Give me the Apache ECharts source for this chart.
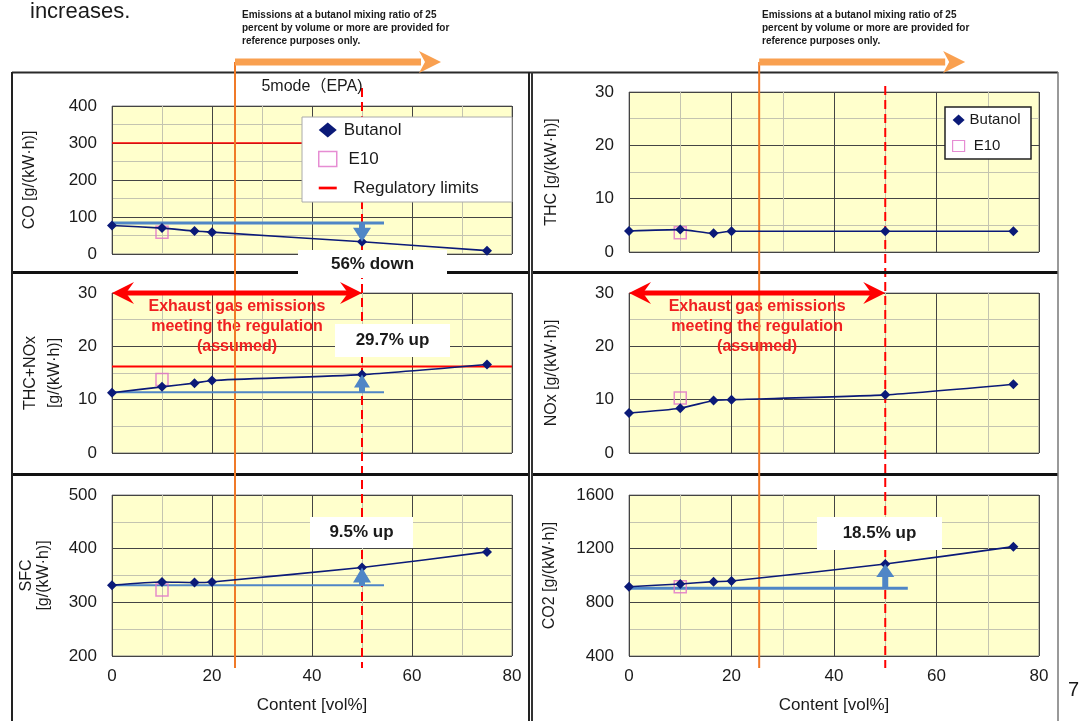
<!DOCTYPE html>
<html><head><meta charset="utf-8">
<script src="https://cdn.jsdelivr.net/npm/echarts@6/dist/echarts.min.js"></script>
<style>html,body{margin:0;padding:0;background:#fff}#c{width:1080px;height:721px}</style>
</head><body><div id="c"></div>
<script>
// ---------- data ----------
const contentX = [0, 10, 16.5, 20, 50, 75];          // butanol content [vol%]
const e10X = [10];
const xTicks = [0, 20, 40, 60, 80];

const coButanol = [77, 70, 62, 59, 33, 9];
const coE10 = [59];
const coLimit = 300;
const coBaseline = 84;
const coTicks = [0, 100, 200, 300, 400];

const thcButanol = [3.95, 4.2, 3.5, 3.9, 3.9, 3.9];
const thcE10 = [3.6];
const thcTicks = [0, 10, 20, 30];

const thcNoxButanol = [11.3, 12.4, 13.1, 13.6, 14.7, 16.6];
const thcNoxE10 = [13.8];
const thcNoxLimit = 16.2;
const thcNoxBaseline = 11.4;
const thcNoxTicks = [0, 10, 20, 30];

const noxButanol = [7.5, 8.4, 9.85, 10.0, 10.9, 12.9];
const noxE10 = [10.3];
const noxTicks = [0, 10, 20, 30];

const sfcButanol = [332, 338, 337, 338, 365, 394];
const sfcE10 = [323];
const sfcBaseline = 332;
const sfcTicks = [200, 300, 400, 500];

const co2Butanol = [916, 937, 954, 959, 1086, 1215];
const co2E10 = [916];
const co2Baseline = 905;
const co2Ticks = [400, 800, 1200, 1600];

const baselineX = [0, 54.4];
const compareX = 50;                 // mixing ratio compared with 0 %
const regulationRange = [0, 50];     // range assumed to meet regulation
const referenceFrom = [24.6, 25.4];  // "25 % or more" marker (left, right column)

const changeLabels = ['56% down', '29.7% up', '9.5% up', '18.5% up'];
const noteText = 'Emissions at a butanol mixing ratio of 25\npercent by volume or more are provided for\nreference purposes only.';
const regText = 'Exhaust gas emissions\nmeeting the regulation\n(assumed)';

// ---------- style ----------
const FONT = '"Liberation Sans", Arial, "Noto Sans CJK JP", sans-serif';
const NAVY = '#0b1a78', PINK = '#e070c8', RED = '#ff0000', BLUE = '#4f86c6';
const ORANGE_V = '#f07a28', ORANGE_H = '#f9a050';
const MAJOR = '#444444', MINOR = '#c4c4b0', TXT = '#1a1a1a';

const grids = [
  {left: 112, top: 106, width: 400, height: 148},
  {left: 629, top: 92, width: 410, height: 160},
  {left: 112, top: 293, width: 400, height: 160},
  {left: 629, top: 293, width: 410, height: 160},
  {left: 112, top: 495, width: 400, height: 161},
  {left: 629, top: 495, width: 410, height: 161}
].map(g => Object.assign(g, {show: true, backgroundColor: '#ffffcc', borderColor: '#888', borderWidth: 1}));

function xAx(gi, show) {
  return {type: 'value', gridIndex: gi, min: xTicks[0], max: xTicks[xTicks.length - 1], interval: xTicks[1] - xTicks[0],
    axisLine: {show: false}, axisTick: {show: false},
    axisLabel: {show: show, fontSize: 17, color: TXT, margin: 12, fontFamily: FONT, formatter: v => String(v)},
    splitLine: {show: true, lineStyle: {color: MAJOR, width: 1}},
    minorTick: {show: false, splitNumber: 2}, minorSplitLine: {show: true, lineStyle: {color: MINOR, width: 1}},
    name: show ? 'Content [vol%]' : '', nameLocation: 'middle', nameGap: 41,
    nameTextStyle: {fontSize: 17, color: TXT, fontFamily: FONT}};
}
function yAx(gi, ticks, name, gap, lh) {
  return {type: 'value', gridIndex: gi, min: ticks[0], max: ticks[ticks.length - 1], interval: ticks[1] - ticks[0],
    axisLine: {show: false}, axisTick: {show: false},
    axisLabel: {fontSize: 17, color: TXT, margin: 15, fontFamily: FONT, formatter: v => String(v)},
    splitLine: {show: true, lineStyle: {color: MAJOR, width: 1}},
    minorTick: {show: false, splitNumber: 2}, minorSplitLine: {show: true, lineStyle: {color: MINOR, width: 1}},
    name: name, nameLocation: 'middle', nameRotate: 90, nameGap: gap,
    nameTextStyle: {fontSize: 16, color: TXT, fontFamily: FONT, lineHeight: lh || 20}};
}
function butanol(gi, vals) {
  return {type: 'line', name: 'Butanol', xAxisIndex: gi, yAxisIndex: gi, z: 4,
    data: contentX.map((x, i) => [x, vals[i]]), smooth: 0.2,
    symbol: 'diamond', symbolSize: 10, showSymbol: true,
    itemStyle: {color: NAVY}, lineStyle: {color: NAVY, width: 1.6}};
}
function e10(gi, vals) {
  return {type: 'scatter', name: 'E10', xAxisIndex: gi, yAxisIndex: gi, z: 3,
    data: e10X.map((x, i) => [x, vals[i]]), symbol: 'rect', symbolSize: 12,
    itemStyle: {color: 'rgba(255,255,255,0)', borderColor: PINK, borderWidth: 1.5}};
}
function limit(gi, v, w) {
  return {type: 'line', name: 'Regulatory limits', xAxisIndex: gi, yAxisIndex: gi, z: 2,
    data: [[xTicks[0], v], [xTicks[xTicks.length - 1], v]], symbol: 'none',
    itemStyle: {color: RED}, lineStyle: {color: RED, width: w}};
}
function baseline(gi, v, w) {
  return {type: 'line', name: 'baseline', xAxisIndex: gi, yAxisIndex: gi, z: 3, silent: true,
    data: baselineX.map(x => [x, v]), symbol: 'none', lineStyle: {color: BLUE, width: w}};
}
function blueArrow(gi, base, tip, hw, hl) {
  return {type: 'custom', xAxisIndex: gi, yAxisIndex: gi, z: 5, silent: true,
    data: [[compareX, base, tip]], encode: {x: 0, y: [1, 2]},
    renderItem: (params, api) => {
      const p0 = api.coord([api.value(0), api.value(1)]);
      const p1 = api.coord([api.value(0), api.value(2)]);
      const dir = p1[1] < p0[1] ? -1 : 1;
      const x = p0[0], sw = 3;
      const neck = p1[1] - dir * hl;
      return {type: 'polygon', shape: {points: [[x - sw, p0[1]], [x - sw, neck], [x - hw, neck], [x, p1[1]],
        [x + hw, neck], [x + sw, neck], [x + sw, p0[1]]]}, style: {fill: BLUE}};
    }};
}
function redArrow(gi, yv) {
  return {type: 'custom', xAxisIndex: gi, yAxisIndex: gi, z: 6, silent: true,
    data: [[regulationRange[0], regulationRange[1], yv]], encode: {x: [0, 1], y: 2},
    renderItem: (params, api) => {
      const a = api.coord([api.value(0), api.value(2)]);
      const b = api.coord([api.value(1), api.value(2)]);
      const y = a[1], L = 22, H = 11, N = 14;
      return {type: 'group', children: [
        {type: 'line', shape: {x1: a[0] + 10, y1: y, x2: b[0] - 10, y2: y}, style: {stroke: RED, lineWidth: 5}},
        {type: 'polygon', shape: {points: [[a[0], y], [a[0] + L, y - H], [a[0] + N, y], [a[0] + L, y + H]]}, style: {fill: RED}},
        {type: 'polygon', shape: {points: [[b[0], y], [b[0] - L, y - H], [b[0] - N, y], [b[0] - L, y + H]]}, style: {fill: RED}}
      ]};
    }};
}

const option = {
  animation: false,
  backgroundColor: '#ffffff',
  textStyle: {fontFamily: FONT},
  grid: grids,
  xAxis: [xAx(0, false), xAx(1, false), xAx(2, false), xAx(3, false), xAx(4, true), xAx(5, true)],
  yAxis: [
    yAx(0, coTicks, 'CO [g/(kW·h)]', 72),
    yAx(1, thcTicks, 'THC [g/(kW·h)]', 67),
    yAx(2, thcNoxTicks, 'THC+NOx\n[g/(kW·h)]', 45, 24),
    yAx(3, noxTicks, 'NOx [g/(kW·h)]', 67),
    yAx(4, sfcTicks, 'SFC\n[g/(kW·h)]', 60, 17),
    yAx(5, co2Ticks, 'CO2 [g/(kW·h)]', 69)
  ],
  legend: [
    {orient: 'vertical', left: 302, top: 117, padding: [3, 0, 0, 16], itemWidth: 18, itemHeight: 15, itemGap: 9,
      selectedMode: false, z: 10, symbolKeepAspect: true,
      textStyle: {fontSize: 17, lineHeight: 20, color: TXT, padding: [0, 0, 0, 2], fontFamily: FONT},
      formatter: n => n === 'E10' ? ' ' + n : n === 'Regulatory limits' ? '  ' + n : n,
      data: [
        {name: 'Butanol', icon: 'diamond', itemStyle: {color: NAVY}},
        {name: 'E10', icon: 'rect', itemStyle: {color: '#ffffff', borderColor: PINK, borderWidth: 1.5}},
        {name: 'Regulatory limits', icon: 'path://M0,0H20V3H0Z', itemStyle: {color: RED}}
      ]},
    {orient: 'vertical', left: 945, top: 107, padding: [4, 0, 0, 7], itemWidth: 12, itemHeight: 11, itemGap: 8,
      selectedMode: false, z: 10,
      textStyle: {fontSize: 15, lineHeight: 18, color: TXT, fontFamily: FONT},
      formatter: n => n === 'E10' ? ' ' + n : n,
      data: [
        {name: 'Butanol', icon: 'diamond', itemStyle: {color: NAVY}},
        {name: 'E10', icon: 'rect', itemStyle: {color: '#ffffff', borderColor: PINK, borderWidth: 1.2}}
      ]}
  ],
  series: [
    limit(0, coLimit, 1.5), baseline(0, coBaseline, 3), e10(0, coE10), butanol(0, coButanol),
    blueArrow(0, coBaseline, coButanol[4], 9, 14),
    e10(1, thcE10), butanol(1, thcButanol),
    limit(2, thcNoxLimit, 2), baseline(2, thcNoxBaseline, 2), e10(2, thcNoxE10), butanol(2, thcNoxButanol),
    blueArrow(2, thcNoxBaseline, thcNoxButanol[4], 8, 13), redArrow(2, thcNoxTicks[thcNoxTicks.length - 1]),
    e10(3, noxE10), butanol(3, noxButanol), redArrow(3, noxTicks[noxTicks.length - 1]),
    baseline(4, sfcBaseline, 2), e10(4, sfcE10), butanol(4, sfcButanol),
    blueArrow(4, sfcBaseline, sfcButanol[4], 9, 15),
    baseline(5, co2Baseline, 3), e10(5, co2E10), butanol(5, co2Butanol),
    blueArrow(5, co2Baseline, co2Butanol[4], 9, 13)
  ]
};

const chart = echarts.init(document.getElementById('c'), null, {renderer: 'canvas'});
chart.setOption(option);

// ---------- annotations placed through the axes ----------
const px = (g, x, y) => chart.convertToPixel({gridIndex: g}, [x, y]);
const xL50 = px(0, compareX, 0)[0], xR50 = px(1, compareX, 0)[0];
const xLO = px(0, referenceFrom[0], 0)[0], xRO = px(1, referenceFrom[1], 0)[0];
const regMidL = (px(2, regulationRange[0], 0)[0] + px(2, regulationRange[1], 0)[0]) / 2;
const regMidR = (px(3, regulationRange[0], 0)[0] + px(3, regulationRange[1], 0)[0]) / 2;

const g = [];
function hline(x1, x2, y, w, c, z) { g.push({type: 'line', silent: true, z: z, shape: {x1, y1: y, x2, y2: y}, style: {stroke: c, lineWidth: w}}); }
function vline(x, y1, y2, w, c, z, dash) { g.push({type: 'line', silent: true, z: z, shape: {x1: x, y1, x2: x, y2}, style: {stroke: c, lineWidth: w, lineDash: dash || null}}); }
function text(x, y, t, font, c, align, z, lh) { g.push({type: 'text', silent: true, z: z || 6, x, y, style: {text: t, font: font, fill: c || TXT, align: align || 'left', verticalAlign: 'top', lineHeight: lh}}); }
function box(x1, y1, x2, y2, label) {
  g.push({type: 'rect', silent: true, z: 7, shape: {x: x1, y: y1, width: x2 - x1, height: y2 - y1}, style: {fill: '#fff'}});
  g.push({type: 'text', silent: true, z: 8, x: (x1 + x2) / 2, y: (y1 + y2) / 2, style: {text: label, font: 'bold 17px ' + FONT, fill: TXT, align: 'center', verticalAlign: 'middle'}});
}

// frames
hline(12, 1058, 72.5, 2, '#2a2a2a', 3);
[272.5, 474.5].forEach(y => { hline(12, 529, y, 3, '#111', 3); hline(532, 1058, y, 3, '#111', 3); });
vline(12, 72, 721, 2, '#222', 3); vline(529, 72, 721, 2, '#222', 3);
vline(532, 72, 721, 2, '#333', 3); vline(1058, 72, 721, 1.5, '#777', 3);

// red dashed lines at 50 vol%
vline(xL50, 88, 668, 2, RED, 1, [9, 5]);
vline(xR50, 86, 668, 2, RED, 1, [9, 5]);

// red regulation texts
[regMidL, regMidR].forEach(cx => {
  g.push({type: 'text', silent: true, z: 2.5, x: cx, y: 327, style: {text: regText, font: 'bold 16px ' + FONT, fill: '#f02020', align: 'center', verticalAlign: 'middle', lineHeight: 20}});
});

// orange reference arrows
[[xLO, 200], [xRO, 200]].forEach(([x, len]) => {
  vline(x, 62, 668, 2, ORANGE_V, 3);
  hline(x, x + len - 14, 62, 7, ORANGE_H, 3);
  g.push({type: 'polygon', silent: true, z: 3, shape: {points: [[x + len + 6, 62], [x + len - 16, 51], [x + len - 10, 62], [x + len - 16, 73]]}, style: {fill: ORANGE_H}});
});

// top notes
text(242, 9, noteText, 'bold 10px ' + FONT, TXT, 'left', 6, 13);
text(762, 9, noteText, 'bold 10px ' + FONT, TXT, 'left', 6, 13);
text(30, 1, 'increases.', '22px ' + FONT, TXT, 'left', 6);
text(1068, 680, '7', '20px ' + FONT, TXT, 'left', 6);
text(312, 79, '5mode（EPA)', '16px ' + FONT, TXT, 'center', 6);

// legend boxes
g.push({type: 'rect', silent: true, z: 8, shape: {x: 302, y: 117, width: 210, height: 85}, style: {fill: '#fff', stroke: '#aaa', lineWidth: 1}});
g.push({type: 'rect', silent: true, z: 8, shape: {x: 945, y: 107, width: 86, height: 52}, style: {fill: '#fff', stroke: '#222', lineWidth: 1.5}});

// change labels
box(298, 250, 447, 278, changeLabels[0]);
box(335, 324, 450, 357, changeLabels[1]);
box(310, 517, 413, 548, changeLabels[2]);
box(817, 517, 942, 550, changeLabels[3]);

chart.setOption({graphic: [{elements: g}]});
</script>
</body></html>
